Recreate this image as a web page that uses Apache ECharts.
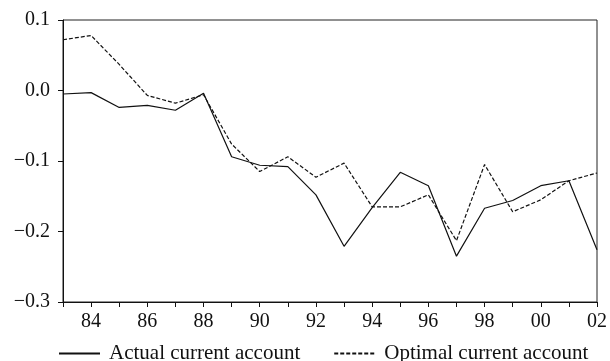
<!DOCTYPE html>
<html><head><meta charset="utf-8">
<script src="https://cdn.jsdelivr.net/npm/echarts@6/dist/echarts.min.js"></script>
<style>html,body{margin:0;padding:0;background:#fff}#c{width:610px;height:361px}</style>
</head><body><div id="c"></div>
<script>
const years = ['83','84','85','86','87','88','89','90','91','92','93','94','95','96','97','98','99','00','01','02'];
const actual = [-0.005,-0.003,-0.024,-0.021,-0.028,-0.004,-0.094,-0.106,-0.108,-0.148,-0.221,-0.166,-0.116,-0.135,-0.235,-0.167,-0.156,-0.135,-0.128,-0.226];
const optimal = [0.072,0.078,0.037,-0.007,-0.018,-0.006,-0.076,-0.115,-0.094,-0.123,-0.103,-0.165,-0.165,-0.148,-0.213,-0.105,-0.172,-0.155,-0.128,-0.117];
const yTicks = {min:-0.3, max:0.1, step:0.1};
const font = 'Liberation Serif';
const chart = echarts.init(document.getElementById('c'), null, {renderer:'canvas'});
chart.setOption({
  animation:false,
  backgroundColor:'#fff',
  grid:{left:63,right:10,top:20,bottom:59,show:true,borderColor:'#222',borderWidth:1},
  legend:{
    top:343,left:58,itemWidth:41,itemHeight:14,itemGap:33,padding:0,
    itemStyle:{opacity:0},
    textStyle:{fontFamily:font,fontSize:21,color:'#111',padding:[0,0,0,4]},
    data:['Actual current account','Optimal current account']
  },
  xAxis:{
    type:'category',data:years,boundaryGap:false,
    axisLine:{onZero:false,lineStyle:{color:'#111',width:1}},
    axisTick:{show:true,interval:0,length:5,lineStyle:{color:'#111'}},
    axisLabel:{interval:(i)=>i%2===1,margin:10,fontFamily:font,fontSize:20,color:'#111'},
    splitLine:{show:false}
  },
  yAxis:{
    type:'value',min:yTicks.min,max:yTicks.max,interval:yTicks.step,
    axisLine:{show:true,lineStyle:{color:'#111',width:1}},
    axisTick:{show:true,length:5,lineStyle:{color:'#111'}},
    axisLabel:{margin:13,fontFamily:font,fontSize:20,color:'#111',
      formatter:(v)=>{const s=Math.abs(v).toFixed(1);return (v< -1e-9?'\u2212':'')+s;}},
    splitLine:{show:false}
  },
  series:[
    {name:'Actual current account',type:'line',data:actual,symbol:'none',
     lineStyle:{color:'#111',width:1.2,type:'solid'},itemStyle:{color:'#111'}},
    {name:'Optimal current account',type:'line',data:optimal,symbol:'none',
     lineStyle:{color:'#111',width:1.2,type:[4,2]},itemStyle:{color:'#111'}}
  ]
});
</script></body></html>
